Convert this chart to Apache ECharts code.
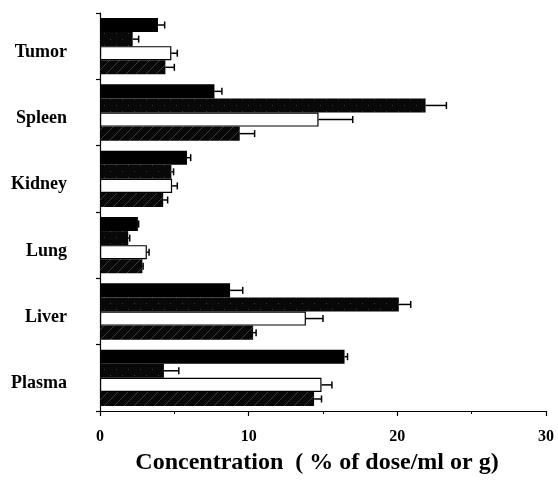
<!DOCTYPE html>
<html>
<head>
<meta charset="utf-8">
<script src="https://cdn.jsdelivr.net/npm/echarts@6/dist/echarts.min.js"></script>
<style>html,body{margin:0;padding:0;background:#fff}#c{width:558px;height:494px}</style>
</head>
<body>
<div id="c"></div>
<script>
const categories = ['Tumor', 'Spleen', 'Kidney', 'Lung', 'Liver', 'Plasma'];
const blackVals   = [3.9, 7.7, 5.85, 2.55, 8.75, 16.45];
const blackErr    = [0.45, 0.5, 0.25, 0.05, 0.85, 0.2];
const darkVals    = [2.2, 21.9, 4.8, 1.9, 20.1, 4.3];
const darkErr     = [0.4, 1.4, 0.15, 0.1, 0.8, 1.0];
const whiteVals   = [4.8, 14.7, 4.85, 3.15, 13.85, 14.9];
const whiteErr    = [0.4, 2.3, 0.35, 0.15, 1.15, 0.7];
const hatchVals   = [4.4, 9.4, 4.25, 2.85, 10.3, 14.4];
const hatchErr    = [0.6, 1.0, 0.3, 0.05, 0.2, 0.5];
const xTicks = [0, 10, 20, 30];

const GAP = 0.15;

function makePattern(kind) {
  const cv = document.createElement('canvas');
  const n = kind === 'hatch' ? 10 : 12;
  cv.width = n; cv.height = n;
  const g = cv.getContext('2d');
  g.fillStyle = '#080808';
  g.fillRect(0, 0, n, n);
  if (kind === 'hatch') {
    g.strokeStyle = '#3a3a3a';
    g.lineWidth = 1;
    g.beginPath();
    g.moveTo(0, n); g.lineTo(n, 0);
    g.stroke();
  } else {
    g.fillStyle = '#3a3a3a';
    g.fillRect(2, 3, 1, 1);
    g.fillRect(8, 9, 1, 1);
  }
  return { image: cv, repeat: 'repeat' };
}

const valSets = [blackVals, darkVals, whiteVals, hatchVals];
const errSets = [blackErr, darkErr, whiteErr, hatchErr];
const errData = [];
valSets.forEach((vals, s) => {
  vals.forEach((v, i) => errData.push([v, i, errSets[s][i], s]));
});

const chart = echarts.init(document.getElementById('c'));
const serif = '"Liberation Serif", "Times New Roman", serif';
const barBase = { type: 'bar', barGap: '0%', barCategoryGap: (GAP * 100) + '%' };

chart.setOption({
  animation: false,
  backgroundColor: '#fff',
  grid: { left: 100, right: 12, top: 13, bottom: 83 },
  xAxis: {
    type: 'value', min: 0, max: 30, interval: 10,
    axisLine: { show: true, lineStyle: { color: '#000', width: 1.2 } },
    axisTick: { show: true, length: 5, lineStyle: { color: '#000', width: 1.2 } },
    minorTick: { show: true, splitNumber: 2, length: 3, lineStyle: { color: '#000', width: 1 } },
    splitLine: { show: false },
    axisLabel: { color: '#000', fontFamily: serif, fontWeight: 'bold', fontSize: 16, margin: 18,
      formatter: v => xTicks.includes(v) ? String(v) : '' },
    name: 'Concentration  ( % of dose/ml or g)',
    nameLocation: 'middle', nameGap: 40,
    nameTextStyle: { color: '#000', fontFamily: serif, fontWeight: 'bold', fontSize: 24,
      padding: [0, 12, 0, 0] }
  },
  yAxis: {
    type: 'category', data: categories, inverse: true,
    axisLine: { show: true, lineStyle: { color: '#000', width: 1.2 } },
    axisTick: { show: true, length: 4, lineStyle: { color: '#000', width: 1.2 } },
    axisLabel: { color: '#000', fontFamily: serif, fontWeight: 'bold', fontSize: 18, margin: 33,
      verticalAlign: 'top', lineHeight: 12 }
  },
  series: [
    Object.assign({}, barBase, { name: 'A', data: blackVals, itemStyle: { color: '#000' } }),
    Object.assign({}, barBase, { name: 'B', data: darkVals, itemStyle: { color: makePattern('dots') } }),
    Object.assign({}, barBase, { name: 'C', data: whiteVals, itemStyle: { color: '#fff', borderColor: '#000', borderWidth: 1.2 } }),
    Object.assign({}, barBase, { name: 'D', data: hatchVals, itemStyle: { color: makePattern('hatch') } }),
    {
      type: 'custom', name: 'err', data: errData, encode: { x: 0, y: 1 }, z: 5,
      renderItem: function (params, api) {
        const v = api.value(0), c = api.value(1), e = api.value(2), s = api.value(3);
        const band = api.size([0, 1])[1];
        const used = band * (1 - GAP);
        const bw = used / 4;
        const p0 = api.coord([v, c]);
        const p1 = api.coord([v + e, c]);
        const y = p0[1] - used / 2 + bw * (s + 0.5);
        return { type: 'group', children: [
          { type: 'line', shape: { x1: p0[0], y1: y, x2: p1[0], y2: y }, style: { stroke: '#000', lineWidth: 1.5 } },
          { type: 'line', shape: { x1: p1[0], y1: y - 3.5, x2: p1[0], y2: y + 3.5 }, style: { stroke: '#000', lineWidth: 1.5 } }
        ] };
      }
    }
  ]
});
</script>
</body>
</html>
